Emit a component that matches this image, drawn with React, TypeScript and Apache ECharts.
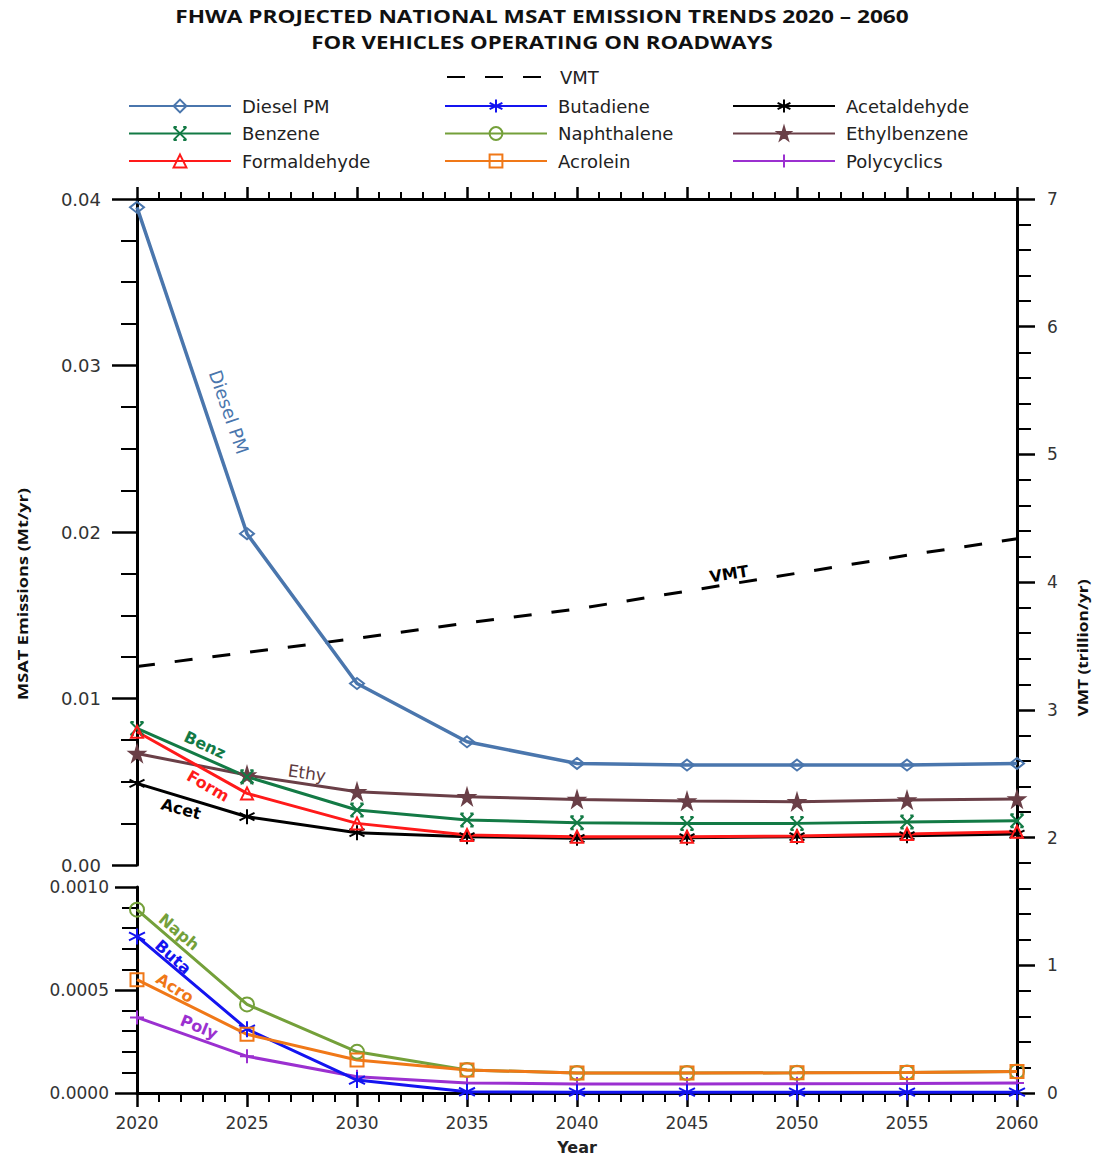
import React, { useEffect, useRef } from "react";
import * as echarts from "echarts";

// ---------- data ----------
const years = [2020, 2025, 2030, 2035, 2040, 2045, 2050, 2055, 2060];
const vmt = [3.34, 3.45, 3.56, 3.68, 3.79, 3.93, 4.07, 4.21, 4.34];
const dieselPM = [0.0395, 0.0199, 0.0109, 0.0074, 0.0061, 0.006, 0.006, 0.006, 0.0061];
const benzene = [0.0082, 0.0053, 0.0033, 0.0027, 0.00254, 0.0025, 0.0025, 0.00258, 0.00266];
const formaldehyde = [0.008, 0.0043, 0.0025, 0.0018, 0.0017, 0.0017, 0.00174, 0.00186, 0.002];
const acetaldehyde = [0.0049, 0.0029, 0.00194, 0.0017, 0.0016, 0.00164, 0.0017, 0.00176, 0.00186];
const ethylbenzene = [0.0067, 0.0054, 0.0044, 0.0041, 0.00394, 0.00384, 0.0038, 0.0039, 0.00396];
const naphthalene = [0.00089, 0.00043, 0.0002, 0.000112, 0.000097, 0.000097, 0.000098, 0.0001, 0.000104];
const butadiene = [0.00076, 0.00031, 0.000063, 0.000006, 0.000004, 0.000004, 0.000004, 0.000004, 0.000004];
const acrolein = [0.00055, 0.000285, 0.00016, 0.000112, 0.000097, 0.000097, 0.000098, 0.0001, 0.000104];
const polycyclics = [0.000367, 0.000178, 0.000079, 0.000049, 0.000044, 0.000044, 0.000045, 0.000046, 0.000049];

const legendCol1 = ["Diesel PM", "Benzene", "Formaldehyde"];
const legendCol2 = ["Butadiene", "Naphthalene", "Acrolein"];
const legendCol3 = ["Acetaldehyde", "Ethylbenzene", "Polycyclics"];

const titleLine1 = "FHWA PROJECTED NATIONAL MSAT EMISSION TRENDS 2020 \u2013 2060";
const titleLine2 = "FOR VEHICLES OPERATING ON ROADWAYS";

// ---------- symbols ----------
const SYM = {
  diamond: "path://M5,0 L10,5 L5,10 L0,5 Z",
  asterisk: "path://M5,0 L5,10 M0.7,2.5 L9.3,7.5 M0.7,7.5 L9.3,2.5",
  cross: "path://M0,0 L10,10 M10,0 L0,10 M0,0 L2.5,0 M7.5,0 L10,0 M0,10 L2.5,10 M7.5,10 L10,10",
  circle: "path://M10,5 A5,5 0 1 1 0,5 A5,5 0 1 1 10,5 Z",
  star: "path://M50,0 L61,35 L98,35 L68,57 L79,91 L50,70 L21,91 L32,57 L2,35 L39,35 Z",
  triangle: "path://M5,0 L10,9 L0,9 Z",
  square: "path://M0,0 L10,0 L10,10 L0,10 Z",
  plus: "path://M5,0 L5,10 M0,5 L10,5",
};

const toPairs = (vals: number[]) => years.map((y, i) => [y, vals[i]]);

function lineSeries(
  name: string,
  vals: number[],
  color: string,
  symbol: string,
  size: number | number[],
  panel: number,
  filled: boolean,
  width = 3
) {
  return {
    name,
    type: "line",
    xAxisIndex: panel,
    yAxisIndex: panel,
    data: toPairs(vals),
    symbol,
    symbolSize: size,
    showAllSymbol: true,
    lineStyle: { color, width },
    itemStyle: {
      color: filled ? color : "rgba(255,255,255,0)",
      borderColor: color,
      borderWidth: 2,
    },
    z: 3,
  };
}

export default function App() {
  const ref = useRef<HTMLDivElement>(null);

  useEffect(() => {
    document.body.style.margin = "0";
    if (!ref.current) return;
    const chart = echarts.init(ref.current, undefined, { renderer: "svg" });

    const canvas = document.createElement("canvas");
    const ctx = canvas.getContext("2d");
    const fit = (text: string, font: string, target: number) => {
      if (!ctx) return 1;
      ctx.font = font;
      const w = ctx.measureText(text).width;
      return w > 0 ? target / w : 1;
    };

    const titleFont = 'bold 17px "Open Sans"';
    const axisTitleFont = 'bold 15px "Open Sans"';

    const axisLine = { show: true, onZero: false, lineStyle: { color: "#000", width: 3 } };
    const labelStyle = { color: "#333", fontSize: 17, fontFamily: "DejaVu Sans" };

    const xBase = {
      type: "value",
      min: 2020,
      max: 2060,
      interval: 5,
      splitLine: { show: false },
      axisLine,
    };

    const legendText = {
      fontFamily: "DejaVu Sans",
      fontSize: 18,
      color: "#222",
      padding: [0, 0, 0, 6],
    };
    const legendBase = {
      orient: "vertical",
      itemWidth: 102,
      itemHeight: 16,
      itemGap: 9.5,
      padding: 0,
      selectedMode: false,
      textStyle: legendText,
      top: 97,
    };

    const labelText = (
      text: string,
      x: number,
      y: number,
      deg: number,
      color: string,
      bold = true,
      size = 16
    ) => ({
      type: "text",
      x,
      y,
      rotation: (deg * Math.PI) / 180,
      z: 10,
      style: {
        text,
        fill: color,
        font: `${bold ? "bold " : ""}${size}px "DejaVu Sans"`,
        textAlign: "center",
        textVerticalAlign: "middle",
        align: "center",
        verticalAlign: "middle",
      },
    });

    const option = {
      animation: false,
      backgroundColor: "#fff",
      textStyle: { fontFamily: "DejaVu Sans" },
      grid: [
        { left: 137, top: 199, width: 880, height: 666 },
        { left: 137, top: 887, width: 880, height: 206 },
        { left: 137, top: 199, width: 880, height: 894 },
      ],
      xAxis: [
        {
          ...xBase,
          gridIndex: 0,
          position: "top",
          axisLabel: { show: false },
          axisTick: { show: true, inside: false, length: 12, lineStyle: { color: "#000", width: 2.5 } },
          minorTick: { show: true, splitNumber: 5, length: 7, lineStyle: { color: "#000", width: 2 } },
        },
        {
          ...xBase,
          gridIndex: 1,
          position: "bottom",
          axisLabel: { ...labelStyle, margin: 21, formatter: (v: number) => String(v) },
          axisTick: { show: true, inside: false, length: 14, lineStyle: { color: "#000", width: 2.5 } },
          minorTick: { show: true, splitNumber: 5, length: 9, lineStyle: { color: "#000", width: 2 } },
          name: "Year",
          nameLocation: "middle",
          nameGap: 46,
          nameTextStyle: { fontFamily: "DejaVu Sans", fontWeight: "bold", fontSize: 16, color: "#222" },
        },
        {
          ...xBase,
          gridIndex: 2,
          show: false,
        },
      ],
      yAxis: [
        {
          type: "value",
          gridIndex: 0,
          position: "left",
          min: 0,
          max: 0.04,
          interval: 0.01,
          splitLine: { show: false },
          axisLine,
          axisLabel: { ...labelStyle, fontSize: 18, margin: 36, formatter: (v: number) => v.toFixed(2) },
          axisTick: { show: true, length: 25, lineStyle: { color: "#000", width: 2.5 } },
          minorTick: { show: true, splitNumber: 4, length: 16, lineStyle: { color: "#000", width: 2 } },
        },
        {
          type: "value",
          gridIndex: 1,
          position: "left",
          min: 0,
          max: 0.001,
          interval: 0.0005,
          splitLine: { show: false },
          axisLine,
          axisLabel: { ...labelStyle, margin: 28, formatter: (v: number) => v.toFixed(4) },
          axisTick: { show: true, length: 22, lineStyle: { color: "#000", width: 2.5 } },
          minorTick: { show: true, splitNumber: 5, length: 15, lineStyle: { color: "#000", width: 2 } },
        },
        {
          type: "value",
          gridIndex: 2,
          position: "right",
          min: 0,
          max: 7,
          interval: 1,
          splitLine: { show: false },
          axisLine,
          axisLabel: { ...labelStyle, margin: 30 },
          axisTick: { show: true, length: 18, lineStyle: { color: "#000", width: 2.5 } },
          minorTick: { show: true, splitNumber: 5, length: 14, lineStyle: { color: "#000", width: 2 } },
        },
      ],
      legend: [
        {
          ...legendBase,
          left: 446,
          top: 68,
          data: [{ name: "VMT", itemStyle: { opacity: 0 } }],
        },
        { ...legendBase, left: 128, data: legendCol1 },
        { ...legendBase, left: 444, data: legendCol2 },
        { ...legendBase, left: 732, data: legendCol3 },
      ],
      series: [
        {
          name: "VMT",
          type: "line",
          xAxisIndex: 2,
          yAxisIndex: 2,
          data: toPairs(vmt),
          symbol: "none",
          lineStyle: { color: "#000", width: 3, type: [18, 20] },
          itemStyle: { color: "#000" },
          z: 2,
        },
        lineSeries("Diesel PM", dieselPM, "#4a76ad", SYM.diamond, [14, 11], 0, false, 3.5),
        lineSeries("Ethylbenzene", ethylbenzene, "#6a3f47", SYM.star, 15, 0, true),
        lineSeries("Benzene", benzene, "#137a45", SYM.cross, 13, 0, false),
        lineSeries("Acetaldehyde", acetaldehyde, "#000000", SYM.asterisk, 15, 0, false),
        lineSeries("Formaldehyde", formaldehyde, "#ff1a1a", SYM.triangle, 12, 0, false),
        lineSeries("Polycyclics", polycyclics, "#9b30d0", SYM.plus, 14, 1, false),
        lineSeries("Butadiene", butadiene, "#1414f0", SYM.asterisk, 16, 1, false),
        lineSeries("Naphthalene", naphthalene, "#74a03a", SYM.circle, 14, 1, false),
        lineSeries("Acrolein", acrolein, "#f07818", SYM.square, 13, 1, false),
      ],
      graphic: [
        {
          type: "text",
          x: 542,
          y: 17,
          scaleX: fit(titleLine1, titleFont, 734),
          style: {
            text: titleLine1,
            font: titleFont,
            fill: "#111",
            textAlign: "center",
            textVerticalAlign: "middle",
            align: "center",
            verticalAlign: "middle",
          },
        },
        {
          type: "text",
          x: 542,
          y: 43,
          scaleX: fit(titleLine2, titleFont, 462),
          style: {
            text: titleLine2,
            font: titleFont,
            fill: "#111",
            textAlign: "center",
            textVerticalAlign: "middle",
            align: "center",
            verticalAlign: "middle",
          },
        },
        {
          type: "text",
          x: 22,
          y: 594,
          rotation: Math.PI / 2,
          scaleX: fit("MSAT Emissions (Mt/yr)", axisTitleFont, 212),
          style: {
            text: "MSAT Emissions (Mt/yr)",
            font: axisTitleFont,
            fill: "#111",
            textAlign: "center",
            textVerticalAlign: "middle",
            align: "center",
            verticalAlign: "middle",
          },
        },
        {
          type: "text",
          x: 1082,
          y: 648,
          rotation: Math.PI / 2,
          scaleX: fit("VMT (trillion/yr)", axisTitleFont, 137),
          style: {
            text: "VMT (trillion/yr)",
            font: axisTitleFont,
            fill: "#111",
            textAlign: "center",
            textVerticalAlign: "middle",
            align: "center",
            verticalAlign: "middle",
          },
        },
        labelText("Diesel PM", 229, 412, -71, "#4a76ad", false, 18),
        labelText("Benz", 205, 745, -25, "#137a45"),
        labelText("Form", 208, 786, -30, "#ff1a1a"),
        labelText("Acet", 181, 809, -15, "#000"),
        labelText("Ethy", 307, 773, -8, "#5e3a40", false, 17),
        labelText("VMT", 729, 574, 9, "#000"),
        labelText("Naph", 179, 932, -40, "#74a03a"),
        labelText("Buta", 173, 957, -42, "#1414f0"),
        labelText("Acro", 175, 988, -32, "#f07818"),
        labelText("Poly", 199, 1027, -22, "#9b30d0"),
      ],
    };

    chart.setOption(option as any);
    return () => chart.dispose();
  }, []);

  return <div ref={ref} style={{ width: 1097, height: 1156 }} />;
}
